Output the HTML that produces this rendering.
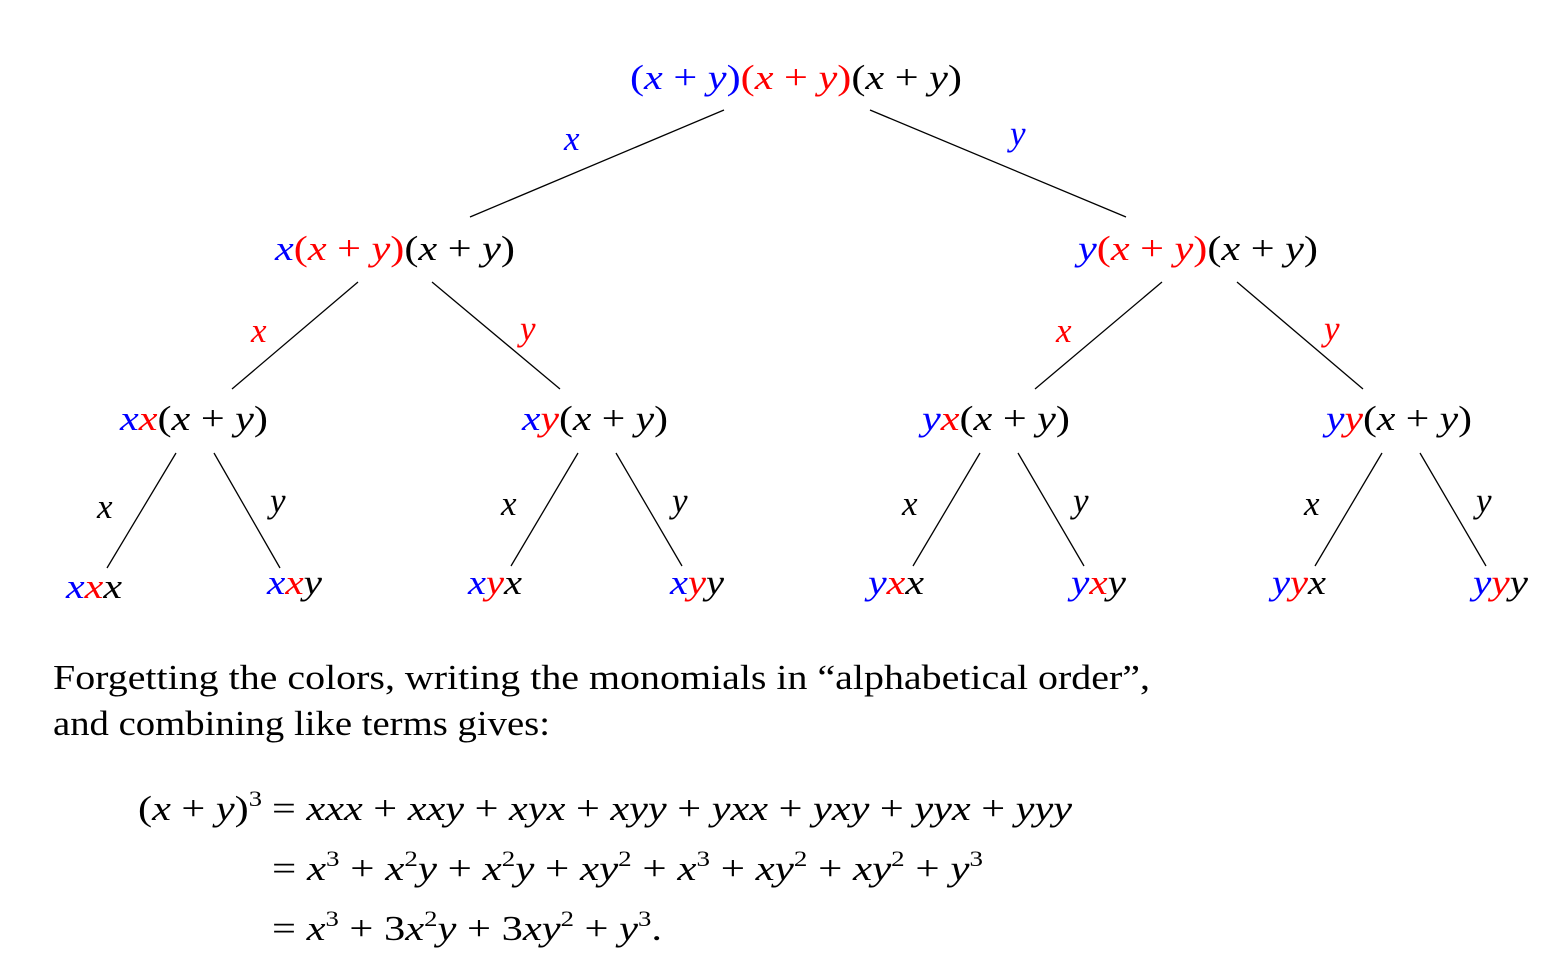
<!DOCTYPE html>
<html><head><meta charset="utf-8"><style>
html,body{margin:0;padding:0;background:#fff;}
svg{display:block;}
text{font-family:"Liberation Serif",serif;font-size:35px;}
.m{font-style:italic;}
.b{fill:#0000ff;} .r{fill:#ff0000;} .k{fill:#000;}
</style></head><body>
<svg width="1568" height="978" viewBox="0 0 1568 978" xmlns="http://www.w3.org/2000/svg">
<g stroke="#000" stroke-width="1.3">
<line x1="724" y1="110" x2="470" y2="217"/>
<line x1="870" y1="110" x2="1126" y2="217"/>
<line x1="358" y1="282" x2="232" y2="389"/>
<line x1="432" y1="282" x2="560" y2="389"/>
<line x1="1162" y1="282" x2="1035" y2="389"/>
<line x1="1237" y1="282" x2="1363" y2="389"/>
<line x1="176" y1="453" x2="107" y2="568"/>
<line x1="214" y1="453" x2="280" y2="568"/>
<line x1="578" y1="453" x2="511" y2="566"/>
<line x1="616" y1="453" x2="682" y2="566"/>
<line x1="980" y1="453" x2="913" y2="566"/>
<line x1="1018" y1="453" x2="1084" y2="566"/>
<line x1="1382" y1="453" x2="1315" y2="566"/>
<line x1="1420" y1="453" x2="1486" y2="566"/>
</g>
<text x="630" y="89" textLength="332" lengthAdjust="spacingAndGlyphs"><tspan class="b">(</tspan><tspan class="b m">x</tspan><tspan class="b"> + </tspan><tspan class="b m">y</tspan><tspan class="b">)</tspan><tspan class="r">(</tspan><tspan class="r m">x</tspan><tspan class="r"> + </tspan><tspan class="r m">y</tspan><tspan class="r">)</tspan>(<tspan class="m">x</tspan> + <tspan class="m">y</tspan>)</text>
<text class="m b" x="564" y="150">x</text>
<text class="m b" x="1010" y="145">y</text>
<text x="275" y="260" textLength="240" lengthAdjust="spacingAndGlyphs"><tspan class="b m">x</tspan><tspan class="r">(</tspan><tspan class="r m">x</tspan><tspan class="r"> + </tspan><tspan class="r m">y</tspan><tspan class="r">)</tspan>(<tspan class="m">x</tspan> + <tspan class="m">y</tspan>)</text>
<text x="1078" y="260" textLength="240" lengthAdjust="spacingAndGlyphs"><tspan class="b m">y</tspan><tspan class="r">(</tspan><tspan class="r m">x</tspan><tspan class="r"> + </tspan><tspan class="r m">y</tspan><tspan class="r">)</tspan>(<tspan class="m">x</tspan> + <tspan class="m">y</tspan>)</text>
<text class="m r" x="251" y="342">x</text>
<text class="m r" x="520" y="340">y</text>
<text class="m r" x="1056" y="342">x</text>
<text class="m r" x="1324" y="340">y</text>
<text x="120" y="430" textLength="148" lengthAdjust="spacingAndGlyphs"><tspan class="b m">x</tspan><tspan class="r m">x</tspan>(<tspan class="m">x</tspan> + <tspan class="m">y</tspan>)</text>
<text x="522" y="430" textLength="146" lengthAdjust="spacingAndGlyphs"><tspan class="b m">x</tspan><tspan class="r m">y</tspan>(<tspan class="m">x</tspan> + <tspan class="m">y</tspan>)</text>
<text x="922" y="430" textLength="148" lengthAdjust="spacingAndGlyphs"><tspan class="b m">y</tspan><tspan class="r m">x</tspan>(<tspan class="m">x</tspan> + <tspan class="m">y</tspan>)</text>
<text x="1326" y="430" textLength="146" lengthAdjust="spacingAndGlyphs"><tspan class="b m">y</tspan><tspan class="r m">y</tspan>(<tspan class="m">x</tspan> + <tspan class="m">y</tspan>)</text>
<g class="m">
<text x="97" y="518">x</text><text x="270" y="512">y</text>
<text x="501" y="515">x</text><text x="672" y="512">y</text>
<text x="902" y="515">x</text><text x="1073" y="512">y</text>
<text x="1304" y="515">x</text><text x="1476" y="512">y</text>
</g>
<g class="m">
<text x="66" y="598" textLength="56" lengthAdjust="spacingAndGlyphs"><tspan class="b">x</tspan><tspan class="r">x</tspan>x</text>
<text x="267" y="594" textLength="55" lengthAdjust="spacingAndGlyphs"><tspan class="b">x</tspan><tspan class="r">x</tspan>y</text>
<text x="468" y="594" textLength="54" lengthAdjust="spacingAndGlyphs"><tspan class="b">x</tspan><tspan class="r">y</tspan>x</text>
<text x="670" y="594" textLength="54" lengthAdjust="spacingAndGlyphs"><tspan class="b">x</tspan><tspan class="r">y</tspan>y</text>
<text x="868" y="594" textLength="56" lengthAdjust="spacingAndGlyphs"><tspan class="b">y</tspan><tspan class="r">x</tspan>x</text>
<text x="1071" y="594" textLength="55" lengthAdjust="spacingAndGlyphs"><tspan class="b">y</tspan><tspan class="r">x</tspan>y</text>
<text x="1272" y="594" textLength="54" lengthAdjust="spacingAndGlyphs"><tspan class="b">y</tspan><tspan class="r">y</tspan>x</text>
<text x="1473" y="594" textLength="55" lengthAdjust="spacingAndGlyphs"><tspan class="b">y</tspan><tspan class="r">y</tspan>y</text>
</g>
<text x="53" y="689" font-size="34" textLength="1097" lengthAdjust="spacingAndGlyphs">Forgetting the colors, writing the monomials in “alphabetical order”,</text>
<text x="53" y="735" font-size="34" textLength="497" lengthAdjust="spacingAndGlyphs">and combining like terms gives:</text>
<text x="138" y="820" textLength="124" lengthAdjust="spacingAndGlyphs">(<tspan class="m">x</tspan> + <tspan class="m">y</tspan>)<tspan font-size="22" dy="-14">3</tspan></text>
<text x="272" y="820" font-size="36" textLength="800" lengthAdjust="spacingAndGlyphs">= <tspan class="m">xxx</tspan> + <tspan class="m">xxy</tspan> + <tspan class="m">xyx</tspan> + <tspan class="m">xyy</tspan> + <tspan class="m">yxx</tspan> + <tspan class="m">yxy</tspan> + <tspan class="m">yyx</tspan> + <tspan class="m">yyy</tspan></text>
<text x="272" y="880" font-size="36" textLength="711" lengthAdjust="spacingAndGlyphs">= <tspan class="m">x</tspan><tspan font-size="22" dy="-14">3</tspan><tspan dy="14"> + </tspan><tspan class="m">x</tspan><tspan font-size="22" dy="-14">2</tspan><tspan class="m" dy="14">y</tspan> + <tspan class="m">x</tspan><tspan font-size="22" dy="-14">2</tspan><tspan class="m" dy="14">y</tspan> + <tspan class="m">xy</tspan><tspan font-size="22" dy="-14">2</tspan><tspan dy="14"> + </tspan><tspan class="m">x</tspan><tspan font-size="22" dy="-14">3</tspan><tspan dy="14"> + </tspan><tspan class="m">xy</tspan><tspan font-size="22" dy="-14">2</tspan><tspan dy="14"> + </tspan><tspan class="m">xy</tspan><tspan font-size="22" dy="-14">2</tspan><tspan dy="14"> + </tspan><tspan class="m">y</tspan><tspan font-size="22" dy="-14">3</tspan></text>
<text x="272" y="940" font-size="36" textLength="390" lengthAdjust="spacingAndGlyphs">= <tspan class="m">x</tspan><tspan font-size="22" dy="-14">3</tspan><tspan dy="14"> + 3</tspan><tspan class="m">x</tspan><tspan font-size="22" dy="-14">2</tspan><tspan class="m" dy="14">y</tspan> + 3<tspan class="m">xy</tspan><tspan font-size="22" dy="-14">2</tspan><tspan dy="14"> + </tspan><tspan class="m">y</tspan><tspan font-size="22" dy="-14">3</tspan><tspan dy="14">.</tspan></text>
</svg>
</body></html>
